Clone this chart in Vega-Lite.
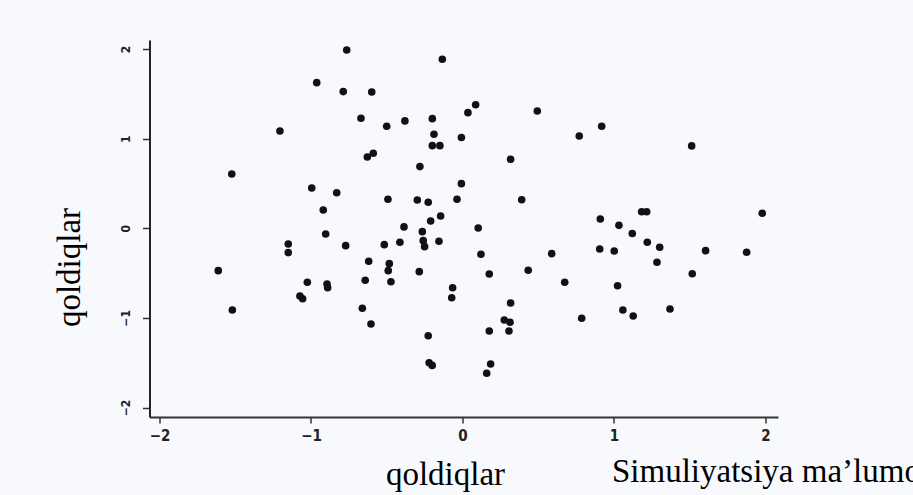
{
  "$schema": "https://vega.github.io/schema/vega-lite/v6.json",
  "width": 628.5,
  "height": 377,
  "autosize": {"type": "none"},
  "padding": {"left": 149.5, "top": 40, "right": 135, "bottom": 78},
  "background": "#f8f9fc",
  "config": {"view": {"stroke": null}, "axis": {"grid": false}},
  "title": {
    "text": "Simuliyatsiya ma’lumotlari",
    "orient": "bottom",
    "anchor": "start",
    "frame": "group",
    "font": "Liberation Serif",
    "fontSize": 33,
    "fontWeight": "normal",
    "color": "#000000",
    "baseline": "alphabetic",
    "dx": 462.5,
    "dy": -9,
    "offset": 0
  },
  "data": {
    "values": [
      {"x": -0.764, "y": 1.989}, {"x": -0.133, "y": 1.886}, {"x": -0.962, "y": 1.625},
      {"x": -0.787, "y": 1.525}, {"x": -0.599, "y": 1.521}, {"x": -0.670, "y": 1.228},
      {"x": -0.500, "y": 1.138}, {"x": -0.380, "y": 1.198}, {"x": -0.199, "y": 1.223},
      {"x": -1.205, "y": 1.086}, {"x": -0.188, "y": 1.049}, {"x": -0.199, "y": 0.922},
      {"x": -0.149, "y": 0.922}, {"x": -0.589, "y": 0.837}, {"x": -0.628, "y": 0.796},
      {"x": -1.523, "y": 0.606}, {"x": -0.281, "y": 0.688}, {"x": -0.995, "y": 0.450},
      {"x": -0.830, "y": 0.397}, {"x": -0.492, "y": 0.324}, {"x": -0.298, "y": 0.316},
      {"x": -0.226, "y": 0.290}, {"x": -0.036, "y": 0.324}, {"x": -0.919, "y": 0.204},
      {"x": -0.144, "y": 0.137}, {"x": -0.210, "y": 0.081}, {"x": -0.386, "y": 0.015},
      {"x": -0.007, "y": 1.013}, {"x": 0.087, "y": 1.379}, {"x": 0.036, "y": 1.290},
      {"x": 0.494, "y": 1.309}, {"x": 0.919, "y": 1.138}, {"x": 0.771, "y": 1.030},
      {"x": 1.513, "y": 0.919}, {"x": 0.318, "y": 0.770}, {"x": -0.007, "y": 0.498},
      {"x": 0.391, "y": 0.319}, {"x": 0.104, "y": 0.003}, {"x": 0.910, "y": 0.104},
      {"x": 1.033, "y": 0.033}, {"x": 1.183, "y": 0.185}, {"x": 1.216, "y": 0.185},
      {"x": 1.979, "y": 0.167}, {"x": 1.121, "y": -0.058}, {"x": -0.903, "y": -0.064},
      {"x": -1.150, "y": -0.175}, {"x": -1.150, "y": -0.272}, {"x": -0.771, "y": -0.194},
      {"x": -0.516, "y": -0.183}, {"x": -0.413, "y": -0.156}, {"x": -0.265, "y": -0.038},
      {"x": -0.259, "y": -0.138}, {"x": -0.250, "y": -0.205}, {"x": -0.155, "y": -0.145},
      {"x": -1.612, "y": -0.473}, {"x": -0.619, "y": -0.368}, {"x": -0.483, "y": -0.395},
      {"x": -0.490, "y": -0.473}, {"x": -0.285, "y": -0.484}, {"x": -1.024, "y": -0.603},
      {"x": -0.894, "y": -0.622}, {"x": -0.890, "y": -0.663}, {"x": -0.642, "y": -0.580},
      {"x": -0.472, "y": -0.596}, {"x": -0.065, "y": -0.663}, {"x": -0.071, "y": -0.775},
      {"x": -1.073, "y": -0.756}, {"x": -1.055, "y": -0.786}, {"x": -1.519, "y": -0.912},
      {"x": -0.661, "y": -0.893}, {"x": -0.604, "y": -1.068}, {"x": -0.226, "y": -1.199},
      {"x": -0.220, "y": -1.500}, {"x": -0.200, "y": -1.530}, {"x": 1.220, "y": -0.156},
      {"x": 1.302, "y": -0.212}, {"x": 0.906, "y": -0.231}, {"x": 1.002, "y": -0.253},
      {"x": 1.605, "y": -0.250}, {"x": 1.876, "y": -0.268}, {"x": 0.122, "y": -0.290},
      {"x": 0.589, "y": -0.283}, {"x": 1.284, "y": -0.379}, {"x": 0.177, "y": -0.510},
      {"x": 0.434, "y": -0.469}, {"x": 1.517, "y": -0.507}, {"x": 0.675, "y": -0.603},
      {"x": 1.024, "y": -0.641}, {"x": 0.318, "y": -0.834}, {"x": 1.059, "y": -0.912},
      {"x": 1.127, "y": -0.979}, {"x": 1.370, "y": -0.901}, {"x": 0.787, "y": -1.004},
      {"x": 0.276, "y": -1.023}, {"x": 0.314, "y": -1.049}, {"x": 0.177, "y": -1.146},
      {"x": 0.307, "y": -1.146}, {"x": 0.186, "y": -1.515}, {"x": 0.160, "y": -1.618}
    ]
  },
  "mark": {"type": "circle", "size": 58, "color": "#111111", "opacity": 1},
  "encoding": {
    "x": {
      "field": "x",
      "type": "quantitative",
      "scale": {"domain": [-2.066, 2.083], "nice": false, "zero": false},
      "axis": {
        "values": [-2, -1, 0, 1, 2],
        "format": "d",
        "domainColor": "#333333",
        "domainWidth": 2,
        "tickColor": "#333333",
        "tickWidth": 1.5,
        "tickSize": 6,
        "labelFont": "Liberation Sans Narrow, DejaVu Sans Condensed, Liberation Sans",
        "labelFontSize": 15,
        "labelFontWeight": "bold",
        "labelColor": "#222222",
        "labelPadding": 5,
        "title": "qoldiqlar",
        "titleFont": "Liberation Serif",
        "titleFontSize": 33,
        "titleFontWeight": "normal",
        "titleColor": "#000000",
        "titleX": 295.5,
        "titleY": 57,
        "titleAlign": "center",
        "titleBaseline": "middle"
      }
    },
    "y": {
      "field": "y",
      "type": "quantitative",
      "scale": {"domain": [-2.106, 2.101], "nice": false, "zero": false},
      "axis": {
        "values": [-2, -1, 0, 1, 2],
        "format": "d",
        "domainColor": "#222222",
        "domainWidth": 2,
        "tickColor": "#333333",
        "tickWidth": 1.5,
        "tickSize": 7,
        "labelAngle": 270,
        "labelFont": "Liberation Sans Narrow, DejaVu Sans Condensed, Liberation Sans",
        "labelFontSize": 12,
        "labelFontWeight": "bold",
        "labelColor": "#222222",
        "labelPadding": 10,
        "title": "qoldiqlar",
        "titleFont": "Liberation Serif",
        "titleFontSize": 33,
        "titleFontWeight": "normal",
        "titleColor": "#000000",
        "titleAngle": 270,
        "titleX": -80.5,
        "titleY": 227,
        "titleAlign": "center",
        "titleBaseline": "middle"
      }
    }
  }
}
